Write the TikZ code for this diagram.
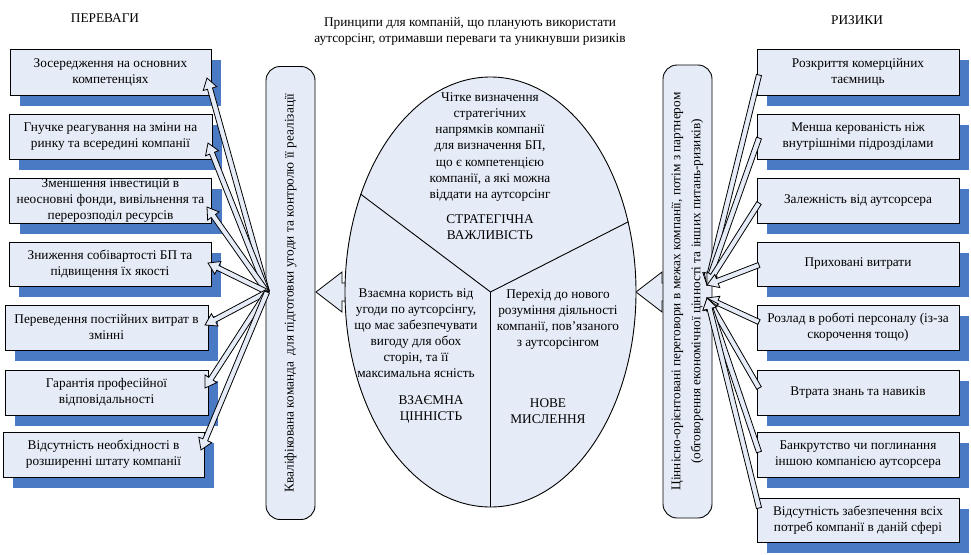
\documentclass[tikz,border=0pt]{standalone}
\usepackage{fontspec}
\setmainfont{Liberation Serif}
\usetikzlibrary{calc,shadows,shapes.geometric}
\definecolor{boxfill}{HTML}{E6ECF7}
\definecolor{shadowblue}{HTML}{4A7AC4}
% block arrow: [style] {from} {to} {shaft half width} {head half width} {head length}
\newcommand\blkarr[6][]{%
  \path ($(#3)!#6!(#2)$) coordinate (bac);
  \filldraw[arr,#1] ($(#2)!#4!90:(#3)$) -- ($(bac)!#4!90:(#3)$) -- ($(bac)!#5!90:(#3)$) -- (#3) -- ($(bac)!#5!-90:(#3)$) -- ($(bac)!#4!-90:(#3)$) -- ($(#2)!#4!-90:(#3)$) -- cycle;}
\begin{document}
\begin{tikzpicture}[x=1pt,y=-1pt,
  font=\fontsize{13.3}{16}\selectfont,
  line width=0.9pt,
  box/.style={draw=black, fill=boxfill, inner sep=0pt, align=center, minimum width=202pt, minimum height=45pt,
    drop shadow={shadow xshift=10pt, shadow yshift=-11pt, fill=shadowblue, opacity=1}},
  pill/.style={draw=black, fill=boxfill, rounded corners=14pt, rotate=90, minimum width=453pt, minimum height=49pt, inner sep=0pt, align=center},
  arr/.style={draw=black, fill=boxfill, line width=0.8pt, line join=miter},
  lbl/.style={inner sep=0pt, align=center}]

\useasboundingbox (0,0) rectangle (971,554);

% titles
\node[lbl] (tl) at (105,18) {ПЕРЕВАГИ};
\node[lbl] (tr) at (857,20) {РИЗИКИ};
\node[lbl] (tc) at (470,31) {Принципи для компаній, що планують використати\\аутсорсінг, отримавши переваги та уникнувши ризиків};

% ellipse -> pill arrows (drawn first, shafts hidden)
\coordinate (la0) at (385,292);
\coordinate (la1) at (316,292);
\coordinate (ra0) at (695,292);
\coordinate (ra1) at (636,292);
\blkarr{la0}{la1}{9pt}{20pt}{26pt}
\blkarr{ra0}{ra1}{9pt}{20pt}{26pt}

% central ellipse
\node[draw=black, fill=boxfill, ellipse, minimum width=291pt, minimum height=430pt, inner sep=0pt] (ell) at (490.5,292) {};
\draw (ell.center) -- (ell.143);
\draw (ell.center) -- (ell.27);
\draw (ell.center) -- (ell.south);

\node[lbl, font=\fontsize{13.3}{16.3}\selectfont] (e1) at (490,147) {Чітке визначення\\стратегічних\\напрямків компанії\\для визначення БП,\\що є компетенцією\\компанії, а які можна\\віддати на аутсорсінг};
\node[lbl] (e1h) at (490,227) {СТРАТЕГІЧНА\\ВАЖЛИВІСТЬ};
\node[lbl] (e2) at (416,333) {Взаємна користь від\\угоди по аутсорсінгу,\\що має забезпечувати\\вигоду для обох\\сторін, та її\\максимальна ясність};
\node[lbl] (e2h) at (431,410) {ВЗАЄМНА\\ЦІННІСТЬ};
\node[lbl] (e3) at (558,320) {Перехід до нового\\розуміння діяльності\\компанії, пов’язаного\\з аутсорсінгом};
\node[lbl] (e3h) at (548,411) {НОВЕ\\МИСЛЕННЯ};

% pills
\node[pill] (lp) at (290.5,293) {Кваліфікована команда\ \ для підготовки угоди та контролю її реалізації};
\node[pill, font=\fontsize{13.3}{20}\selectfont] (rp) at (687.5,291.5) {Ціннісно-орієнтовані переговори в межах компанії, потім з партнером\\(обговорення економічної цінності та інших питань-ризиків)};

% left boxes
\node[box, minimum width=201pt, minimum height=46pt] (l1) at (110.5,72) {Зосередження на основних\\компетенціях};
\node[box, minimum width=203pt] (l2) at (110.5,136.5) {Гнучке реагування на зміни на\\ринку та всередині компанії};
\node[box] (l3) at (110.5,200.5) {Зменшення інвестицій в\\неосновні фонди, вивільнення та\\перерозподіл ресурсів};
\node[box, minimum height=44pt] (l4) at (110,264) {Зниження собівартості БП та\\підвищення їх якості};
\node[box, minimum width=203pt] (l5) at (106.5,327.5) {Переведення постійних витрат в\\змінні};
\node[box, minimum width=203pt] (l6) at (106.5,392.5) {Гарантія професійної\\відповідальності};
\node[box, minimum width=201pt] (l7) at (103.5,454.5) {Відсутність необхідності в\\розширенні штату компанії};

% right boxes
\node[box, minimum height=46pt] (r1) at (858,72) {Розкриття комерційних\\таємниць};
\node[box] (r2) at (858,136.5) {Менша керованість ніж\\внутрішніми підрозділами};
\node[box] (r3) at (858,200.5) {Залежність від аутсорсера};
\node[box, minimum height=44pt] (r4) at (858,264) {Приховані витрати};
\node[box] (r5) at (858,327.5) {Розлад в роботі персоналу (із-за\\скорочення тощо)};
\node[box] (r6) at (858,392.5) {Втрата знань та навиків};
\node[box] (r7) at (858,454.5) {Банкрутство чи поглинання\\іншою компанією аутсорсера};
\node[box, minimum height=44pt] (r8) at (858,520) {Відсутність забезпечення всіх\\потреб компанії в даній сфері};

% left fan arrows
\coordinate (lc) at (267,292);
\coordinate (lt1) at (207,78);
\coordinate (lt2) at (208,143);
\coordinate (lt3) at (207,207);
\coordinate (lt4) at (208,263);
\coordinate (lt5) at (205,325);
\coordinate (lt6) at (205,388);
\coordinate (lt7) at (201,450);
\foreach \i in {1,...,7}{\blkarr{lc}{lt\i}{2.6pt}{7pt}{11pt}}

% right fan arrows
\coordinate (rcu) at (707,285);
\coordinate (rcd) at (707,298);
\coordinate (rs1) at (759,75);
\coordinate (rs2) at (759,138);
\coordinate (rs3) at (759,203);
\coordinate (rs4) at (759,265);
\coordinate (rs5) at (759,322);
\coordinate (rs6) at (759,388);
\coordinate (rs7) at (759,452);
\coordinate (rs8) at (759,508);
\foreach \i in {1,...,4}{\blkarr{rs\i}{rcu}{2.6pt}{7pt}{11pt}}
\foreach \i in {5,...,8}{\blkarr{rs\i}{rcd}{2.6pt}{7pt}{11pt}}

\end{tikzpicture}
\end{document}
